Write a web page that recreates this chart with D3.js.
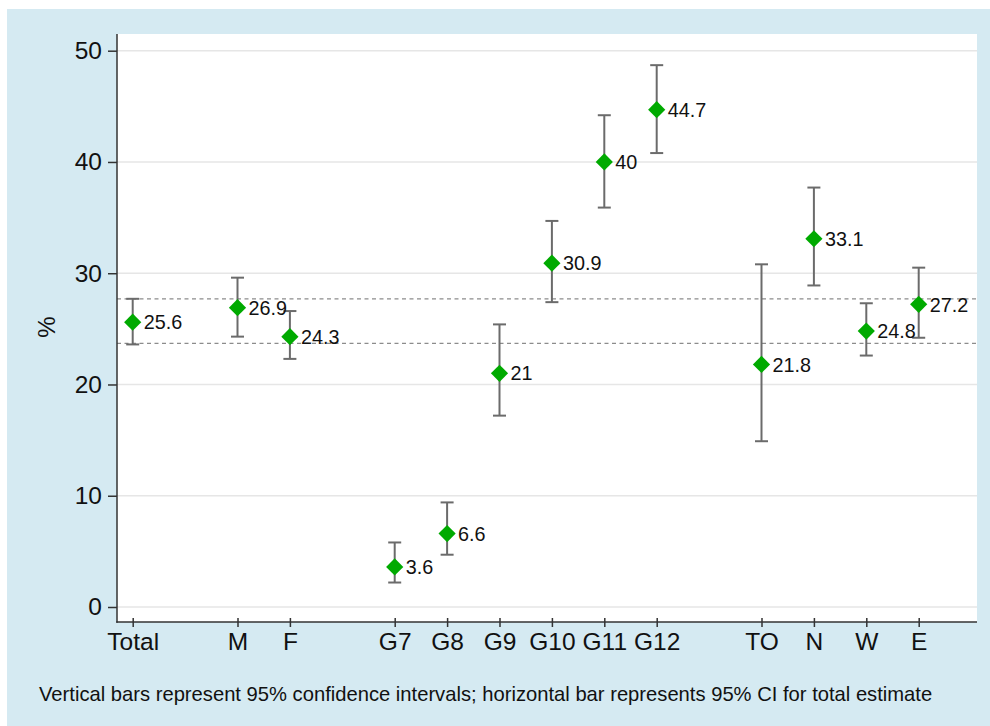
<!DOCTYPE html>
<html>
<head>
<meta charset="utf-8">
<script src="https://cdn.jsdelivr.net/npm/d3@7"></script>
<style>
  html,body{margin:0;padding:0;background:#fff;}
  svg{display:block;}
</style>
</head>
<body>
<svg id="chart" width="990" height="726"></svg>
<script>
// groups of categories, a blank slot is left between groups
var groups=[["Total"],["M","F"],["G7","G8","G9","G10","G11","G12"],["TO","N","W","E"]]
var estimates=[25.6,26.9,24.3,3.6,6.6,21,30.9,40,44.7,21.8,33.1,24.8,27.2]
var ciLow=[23.6,24.3,22.3,2.2,4.7,17.2,27.4,35.9,40.8,14.9,28.9,22.6,24.2]
var ciHigh=[27.7,29.6,26.6,5.8,9.4,25.4,34.7,44.2,48.7,30.8,37.7,27.3,30.5]
var totalCI=[23.7,27.7]
var yTicks=[0,10,20,30,40,50]
var caption="Vertical bars represent 95% confidence intervals; horizontal bar represents 95% CI for total estimate"

var FONT='"Liberation Sans",Arial,Helvetica,sans-serif'

display()

function display()
{
    var svg=d3.select("#chart").attr('font-family',FONT)
    var W=990,H=726
    var plot={left:117,right:977,top:34,bottom:622}

    // flatten groups into slots
    var cats=[],slot=[],s=0
    groups.forEach((g,i)=>{
        if(i>0) s++
        g.forEach(c=>{cats.push(c);slot.push(s);s++})
    })
    var data=cats.map((c,i)=>({cat:c,slot:slot[i],v:estimates[i],lo:ciLow[i],hi:ciHigh[i]}))

    var x=d3.scaleLinear().domain([0,d3.max(slot)]).range([132.7,918.7])
    var y=d3.scaleLinear().domain([0,50]).range([607,50.7])

    // background
    svg.append('rect').attr('x',7).attr('y',9).attr('width',W-7).attr('height',H-9).attr('fill','#d5eaf2')
    svg.append('rect').attr('x',plot.left).attr('y',plot.top)
        .attr('width',plot.right-plot.left).attr('height',plot.bottom-plot.top).attr('fill','#fff')

    // grid
    svg.append('g').selectAll('line').data(yTicks).join('line')
        .attr('x1',plot.left).attr('x2',plot.right)
        .attr('y1',d=>y(d)).attr('y2',d=>y(d))
        .attr('stroke','#e6e6e6').attr('stroke-width',1.5)

    // total CI reference lines
    svg.append('g').selectAll('line').data(totalCI).join('line')
        .attr('x1',plot.left).attr('x2',plot.right)
        .attr('y1',d=>y(d)).attr('y2',d=>y(d))
        .attr('stroke','#8c8c8c').attr('stroke-width',1.2).attr('stroke-dasharray','4,3.5')

    // y axis
    var yAxis=d3.axisLeft(y).tickValues(yTicks).tickSize(9).tickPadding(6)
    var ya=svg.append('g').attr('transform',`translate(${plot.left},0)`).call(yAxis)
        .attr('font-family',FONT).attr('font-size',24.5)
    ya.select('.domain').remove()
    ya.selectAll('.tick line').attr('stroke','#333').attr('stroke-width',1.5)
    ya.selectAll('.tick text').attr('fill','#111')
    svg.append('line').attr('x1',plot.left).attr('x2',plot.left)
        .attr('y1',plot.top).attr('y2',plot.bottom+0.75)
        .attr('stroke','#333').attr('stroke-width',1.5)

    // x axis
    var xAxis=d3.axisBottom(x).tickValues(slot).tickFormat((d,i)=>cats[i]).tickSize(5).tickPadding(6)
    var xa=svg.append('g').attr('transform',`translate(0,${plot.bottom})`).call(xAxis)
        .attr('font-family',FONT).attr('font-size',24.5)
    xa.select('.domain').remove()
    xa.selectAll('.tick line').attr('stroke','#333').attr('stroke-width',1.5).attr('y1',-4)
    xa.selectAll('.tick text').attr('fill','#111')
    svg.append('line').attr('x1',plot.left-0.75).attr('x2',plot.right)
        .attr('y1',plot.bottom).attr('y2',plot.bottom)
        .attr('stroke','#333').attr('stroke-width',1.5)

    // y title
    svg.append('text').attr('transform','translate(47,327) rotate(-90)')
        .attr('text-anchor','middle').attr('dy','0.35em')
        .attr('font-size',24).attr('fill','#111').text('%')

    // error bars
    var g=svg.append('g')
    var bars=g.selectAll('g.bar').data(data).join('g').attr('class','bar')
        .attr('stroke','#6b6b6b').attr('stroke-width',2)
    bars.append('line').attr('x1',d=>x(d.slot)).attr('x2',d=>x(d.slot))
        .attr('y1',d=>y(d.lo)).attr('y2',d=>y(d.hi))
    bars.append('line').attr('x1',d=>x(d.slot)-6.5).attr('x2',d=>x(d.slot)+6.5)
        .attr('y1',d=>y(d.lo)).attr('y2',d=>y(d.lo))
    bars.append('line').attr('x1',d=>x(d.slot)-6.5).attr('x2',d=>x(d.slot)+6.5)
        .attr('y1',d=>y(d.hi)).attr('y2',d=>y(d.hi))

    // markers
    var r=8.6
    g.selectAll('path.pt').data(data).join('path').attr('class','pt')
        .attr('d',d=>{
            let cx=x(d.slot),cy=y(d.v)
            return `M${cx},${cy-r}L${cx+r},${cy}L${cx},${cy+r}L${cx-r},${cy}Z`
        })
        .attr('fill','#00aa00')

    // value labels
    g.selectAll('text.lbl').data(data).join('text').attr('class','lbl')
        .attr('x',d=>x(d.slot)+11).attr('y',d=>y(d.v)).attr('dy','0.36em')
        .attr('font-size',19.8).attr('fill','#111')
        .text(d=>d.v)

    // caption
    svg.append('text').attr('x',39).attr('y',700.5)
        .attr('font-size',20.2).attr('fill','#111').text(caption)
}
</script>
</body>
</html>
